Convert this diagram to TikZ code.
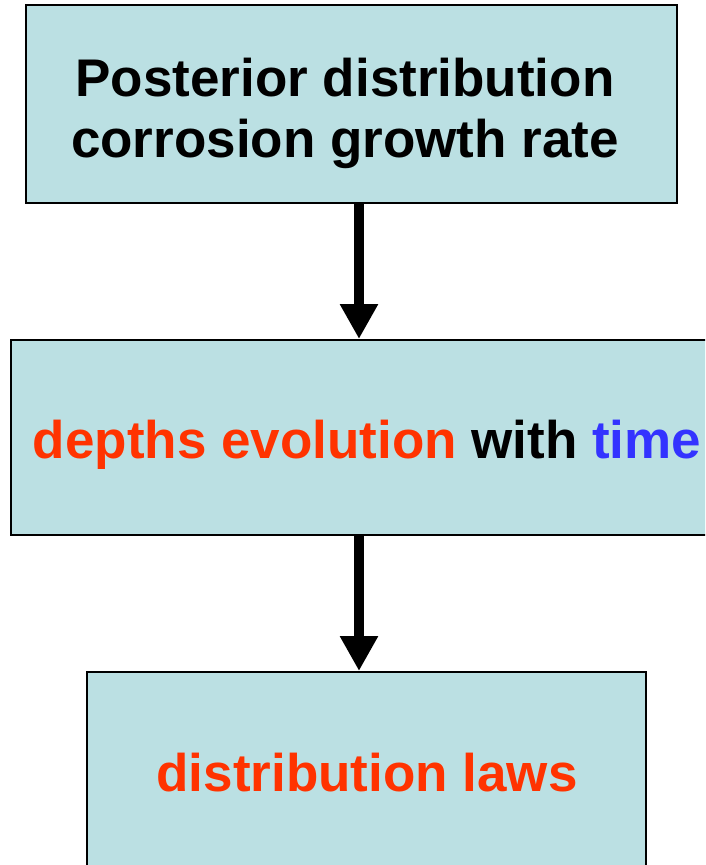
\documentclass[tikz,border=0pt]{standalone}
\usepackage{fontspec}
\setmainfont{Liberation Sans}
\usetikzlibrary{arrows.meta}
\definecolor{boxfill}{HTML}{BBE0E3}
\definecolor{redtxt}{HTML}{FF3300}
\definecolor{bluetxt}{HTML}{3333FF}
\tikzset{
  box/.style={draw=black, fill=boxfill, line width=2pt, rectangle, inner sep=0pt},
  txt/.style={font=\fontsize{53}{61}\selectfont\bfseries, inner sep=0pt, anchor=base},
  conn/.style={line width=10pt, -{Triangle[length=35pt 0 0, width=36pt 0 0]}}
}
\begin{document}
\begin{tikzpicture}[x=1pt,y=-1pt]
\useasboundingbox (0,0) rectangle (705,865);
\clip (0,0) rectangle (705,865);
\node[box, minimum width=651pt, minimum height=198pt] (b1) at (351.5,104) {};
\node[box, minimum width=712pt, minimum height=195pt] (b2) at (367,437.5) {};
\node[box, minimum width=559pt, minimum height=198pt] (b3) at (366.5,771) {};
\node[txt] (t1a) at (345,96) {Posterior distribution};
\node[txt] (t1b) at (345,157) {corrosion growth rate};
\node[txt] (t2) at (367,458) {\textcolor{redtxt}{depths evolution} with \textcolor{bluetxt}{time}};
\node[txt, text=redtxt] (t3) at (367,791) {distribution laws};
\coordinate (ax) at (359,0);
\draw[conn] (b1.south -| ax) -- (b2.north -| ax);
\draw[conn] (b2.south -| ax) -- (b3.north -| ax);
\end{tikzpicture}
\end{document}
